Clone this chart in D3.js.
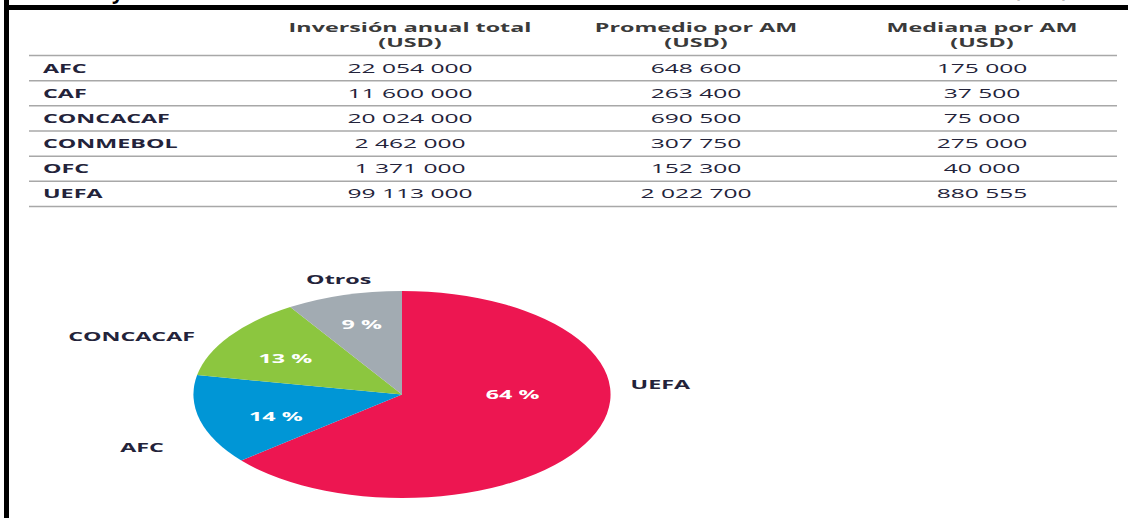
<!DOCTYPE html>
<html><head><meta charset="utf-8">
<script src="https://cdn.jsdelivr.net/npm/d3@7"></script>
<style>body{margin:0;background:#fff}svg{display:block}text{font-family:"Open Sans",sans-serif}</style>
</head><body><svg id="c" width="1128" height="518"></svg>
<script>
// ---- data ----
const regions = ["AFC","CAF","CONCACAF","CONMEBOL","OFC","UEFA"];
const totalInvestment = [22054000,11600000,20024000,2462000,1371000,99113000];
const averagePerMA = [648600,263400,690500,307750,152300,2022700];
const medianPerMA = [175000,37500,75000,275000,40000,880555];
const columnHeaders = [["Inversión anual total","(USD)"],["Promedio por AM","(USD)"],["Mediana por AM","(USD)"]];
const pieLabels = ["UEFA","AFC","CONCACAF","Otros"];
const pieShares = [64,14,13,9];
const pieColors = ["#ED1651","#0096D6","#8CC63F","#A2ABB2"];

// ---- layout ----
const W = 1128, H = 518;
const SX_BOLD = 1.85, SX_REG = 1.95;   // horizontal stretch of the source image text
const FS = 12.6;
const svg = d3.select("#c");
svg.append("rect").attr("width",W).attr("height",H).attr("fill","#fff");

const fmt = d3.formatLocale({decimal:",", thousands:" ", grouping:[3], currency:["",""]}).format(",d");

function stext(g, x, y, str, o){
  const w = o.weight||400;
  const sx = o.sx || (w >= 600 ? SX_BOLD : SX_REG);
  return g.append("text")
    .attr("transform",`translate(${x},${y}) scale(${sx},1)`)
    .attr("text-anchor",o.anchor||"middle")
    .attr("font-size",o.size||FS)
    .attr("font-weight",w)
    .attr("fill",o.fill||"#222")
    .text(str);
}

// frame fragments
svg.append("rect").attr("x",4).attr("y",0).attr("width",5).attr("height",H).attr("fill","#000");
svg.append("rect").attr("x",4).attr("y",5).attr("width",W-4).attr("height",5).attr("fill","#000");
svg.append("text").attr("x",112).attr("y",-1).attr("font-family","Liberation Serif").attr("font-weight",700).attr("font-size",20).text("y");
svg.append("text").attr("x",1041).attr("y",-3).attr("text-anchor","middle").attr("font-family","Liberation Serif").attr("font-weight",700).attr("font-size",20).text("(USD)");

// ---- table ----
const table = svg.append("g");
const cols = [totalInvestment, averagePerMA, medianPerMA];
const xCol = d3.scalePoint().domain([0,1,2]).range([410, 982]);
const yRow = d3.scaleBand().domain(regions).range([55.5, 206.5]);
const ruleX0 = 29, ruleX1 = 1117, labelX = 43;

columnHeaders.forEach((h,i)=>{
  stext(table, xCol(i), 32, h[0], {weight:700, fill:"#3a3a3a"});
  stext(table, xCol(i), 47, h[1], {weight:700, fill:"#3a3a3a"});
});
const rules = [yRow.range()[0]].concat(regions.map(r=>yRow(r)+yRow.bandwidth()));
table.selectAll("line.rule").data(rules).join("line").attr("class","rule")
  .attr("x1",ruleX0).attr("x2",ruleX1).attr("y1",d=>d).attr("y2",d=>d)
  .attr("stroke","#a8a8a8").attr("stroke-width",1.5);
regions.forEach((r,ri)=>{
  const yb = yRow(r) + yRow.bandwidth()/2 + 4.5;
  stext(table, labelX, yb, r, {anchor:"start", weight:700, fill:"#23233a"});
  cols.forEach((c,ci)=> stext(table, xCol(ci), yb, fmt(c[ri]), {fill:"#23233a"}));
});

// ---- pie ----
const cx = 402, cy = 394.5, R = 103.5, PX = 2.015;
const pie = d3.pie().sort(null).value(d=>d)(pieShares);
const arc = d3.arc().innerRadius(0).outerRadius(R);
const pg = svg.append("g").attr("transform",`translate(${cx},${cy}) scale(${PX},1)`);
pg.selectAll("path").data(pie).join("path").attr("d",arc).attr("fill",(d,i)=>pieColors[i]);

// label placement (polar, in unstretched pie units)
const inner = [{a:90,r:0.53},{a:251,r:0.64},{a:302,r:0.66},{a:344,r:0.70}];
const outer = [{a:85,r:1.10,anchor:"start"},{a:246,r:1.25,anchor:"end"},{a:299.5,r:1.14,anchor:"end"},{a:344.7,r:1.15,anchor:"middle"}];
function polar(p){
  const t = p.a*Math.PI/180;
  return [cx + Math.sin(t)*p.r*R*PX, cy - Math.cos(t)*p.r*R];
}
pie.forEach((d,i)=>{
  const [ix,iy] = polar(inner[i]);
  stext(svg, ix, iy+4.5, pieShares[i]+" %", {weight:700, fill:"#fff"});
  const [ox,oy] = polar(outer[i]);
  stext(svg, ox, oy+4.5, pieLabels[i], {weight:700, anchor:outer[i].anchor, fill:"#23233a"});
});
</script></body></html>
